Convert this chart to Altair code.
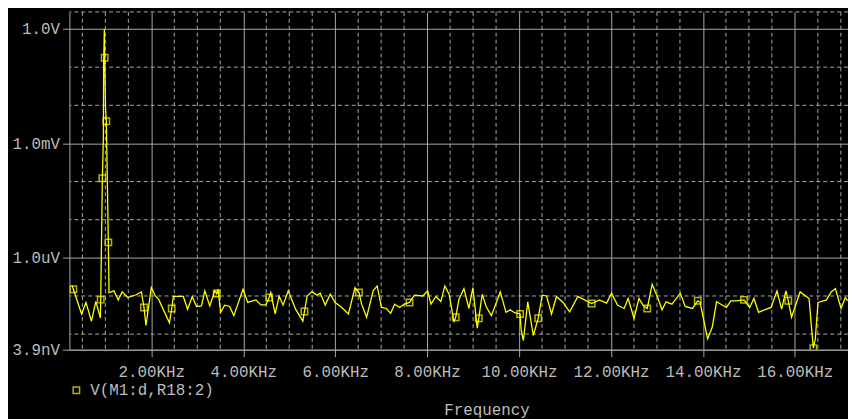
import altair as alt
import pandas as pd

# ---- data (frequency in Hz, magnitude in volts) ----
freq_hz = [276, 304, 483, 578, 698, 793, 892, 899, 935, 957, 962, 978, 985, 1004, 1021, 1065, 1080,
           1187, 1280, 1366, 1489, 1655, 1784, 1840, 1883, 2000, 2086, 2157, 2394, 2444, 2480, 2696,
           2789, 2890, 2983, 3090, 3164, 3271, 3379, 3422, 3450, 3508, 3595, 3702, 3795, 3995, 4097,
           4276, 4383, 4491, 4564, 4599, 4694, 4780, 4866, 4980, 5138, 5297, 5331, 5390, 5497, 5605,
           5676, 5784, 5892, 5999, 6144, 6288, 6431, 6517, 6575, 6683, 6827, 6913, 7006, 7114, 7206,
           7293, 7400, 7508, 7616, 7723, 7905, 8012, 8083, 8191, 8299, 8385, 8478, 8586, 8622, 8693,
           8801, 8909, 8995, 9090, 9124, 9198, 9284, 9398, 9592, 9715, 9807, 9915, 10023, 10045, 10094,
           10189, 10310, 10417, 10503, 10598, 10706, 10814, 10956, 11100, 11279, 11424, 11581, 11747,
           11904, 12012, 12141, 12286, 12372, 12501, 12609, 12695, 12788, 12895, 13003, 13111, 13197,
           13327, 13508, 13615, 13773, 13887, 13938, 14102, 14204, 14296, 14512, 14607, 14727, 14893,
           15016, 15109, 15210, 15339, 15482, 15611, 15712, 15805, 15857, 15928, 16115, 16309, 16365,
           16402, 16445, 16503, 16688, 16790, 16882, 17005, 17098, 17149]

volts = [190e-9, 150e-9, 33.7e-9, 67.5e-9, 21.8e-9, 72e-9, 26.5e-9, 80e-9, 122e-6, 1.4e-3, 0.118, 1.0,
         0.177, 8.0e-3, 3.8e-3, 2.54e-6, 123e-9,
         136e-9, 78e-9, 128e-9, 91e-9, 106e-9, 128e-9, 50e-9, 16.8e-9, 166e-9, 100e-9, 82.6e-9,
         19.7e-9, 47e-9, 97e-9, 97e-9, 45e-9, 97e-9, 53e-9, 55e-9, 136e-9, 55e-9, 136e-9, 116e-9,
         150e-9, 37.3e-9, 57.5e-9, 53e-9, 30.5e-9, 150e-9, 67.5e-9, 79e-9, 58.5e-9, 58.5e-9, 91e-9,
         123e-9, 33.7e-9, 100e-9, 57.5e-9, 136e-9, 45e-9, 21.8e-9, 39e-9, 100e-9, 130e-9, 105e-9,
         118e-9, 57.5e-9, 111e-9, 67.5e-9, 50e-9, 33.7e-9, 166e-9, 123e-9, 61e-9, 27.7e-9, 136e-9,
         183e-9, 50e-9, 47e-9, 35e-9, 61e-9, 50e-9, 61e-9, 67.5e-9, 105e-9, 100e-9, 136e-9, 61e-9,
         97e-9, 72e-9, 183e-9, 111e-9, 20.6e-9, 27.7e-9, 82.6e-9, 156e-9, 47e-9, 166e-9, 14.3e-9,
         26.1e-9, 111e-9, 53e-9, 30.5e-9, 128e-9, 37.3e-9, 43.2e-9, 35.8e-9, 33.7e-9, 13.1e-9, 6.8e-9,
         70.3e-9, 9.2e-9, 26.1e-9, 105e-9, 100e-9, 33.7e-9, 97e-9, 67.5e-9, 38.3e-9, 97e-9, 79e-9,
         63.6e-9, 79e-9, 64.8e-9, 118e-9, 57.5e-9, 47e-9, 86e-9, 26.1e-9, 86e-9, 57.5e-9, 47e-9,
         202e-9, 100e-9, 43.2e-9, 70.3e-9, 61e-9, 118e-9, 53e-9, 47e-9, 74.7e-9, 67.5e-9, 7.55e-9,
         15.3e-9, 70.3e-9, 50e-9, 74.7e-9, 74.7e-9, 79e-9, 50e-9, 86e-9, 37.3e-9, 43.2e-9, 50e-9,
         136e-9, 45e-9, 136e-9, 74.7e-9, 27.7e-9, 128e-9, 86e-9, 13.7e-9, 4.3e-9, 7.55e-9, 67.5e-9,
         79e-9, 128e-9, 156e-9, 47e-9, 91e-9, 74.7e-9]

marker_idx = [1, 7, 8, 12, 14, 15, 23, 29, 39, 50, 58, 69, 80, 90, 96, 104, 109, 118, 128, 137,
              145, 154, 159]

series_name = "V(M1:d,R18:2)"

x_major = [2000, 4000, 6000, 8000, 10000, 12000, 14000, 16000]
x_minor = [500, 1000, 1500, 2500, 3000, 3500, 4500, 5000, 5500, 6500, 7000, 7500, 8500, 9000,
           9500, 10500, 11000, 11500, 12500, 13000, 13500, 14500, 15000, 15500, 16500, 17000]
y_major = [3.9e-9, 1e-6, 1e-3, 1.0]
y_minor = [1e-8, 1e-7, 1e-5, 1e-4, 1e-2, 1e-1]

x_domain = [218, 17156]
y_domain = [3.9e-9, 2.81]

df = pd.DataFrame({"freq": freq_hz, "volt": volts})
mk = df.iloc[marker_idx].copy()
mk["series"] = series_name

GRID = "#a8a8a8"
TEXT = "#bcbcbc"
YEL = "#ffff00"
FONT = "Liberation Mono"

xs = alt.Scale(domain=x_domain, nice=False, zero=False)
ys = alt.Scale(type="log", domain=y_domain, nice=False)

x_axis = alt.Axis(
    values=x_major,
    labelExpr="format(datum.value/1000, '.2f') + 'KHz'",
    grid=True, gridColor=GRID, gridWidth=1,
    domainColor=GRID, domainWidth=1,
    tickColor=GRID, tickSize=7, tickWidth=1,
    labelColor=TEXT, labelFont=FONT, labelFontSize=16, labelPadding=7,
    labelFlush=False, labelOverlap=False,
    title="Frequency", titleColor=TEXT, titleFont=FONT, titleFontSize=16,
    titleFontWeight="normal", titleX=421, titleY=60, titleBaseline="middle",
)
y_axis = alt.Axis(
    values=y_major,
    labelExpr="datum.value >= 0.5 ? '1.0V' : (datum.value >= 5e-4 ? '1.0mV' : (datum.value >= 5e-7 ? '1.0uV' : '3.9nV'))",
    grid=True, gridColor=GRID, gridWidth=1,
    domainColor=GRID, domainWidth=1,
    tickColor=GRID, tickSize=7, tickWidth=1,
    labelColor=TEXT, labelFont=FONT, labelFontSize=16, labelPadding=3,
    labelOverlap=False, labelFlush=False,
    title=None,
)

vminor = alt.Chart(pd.DataFrame({"freq": x_minor})).mark_rule(
    color=GRID, strokeWidth=1, strokeDash=[4, 3]
).encode(x=alt.X("freq:Q", scale=xs, axis=x_axis))

hminor = alt.Chart(pd.DataFrame({"volt": y_minor})).mark_rule(
    color=GRID, strokeWidth=1, strokeDash=[4, 3]
).encode(y=alt.Y("volt:Q", scale=ys, axis=y_axis))

topborder = alt.Chart(pd.DataFrame({"volt": [y_domain[1]]})).mark_rule(
    color=GRID, strokeWidth=1, strokeDash=[4, 3]
).encode(y=alt.Y("volt:Q", scale=ys, axis=y_axis))

line = alt.Chart(df).mark_line(color=YEL, strokeWidth=1.3, clip=True).encode(
    x=alt.X("freq:Q", scale=xs, axis=x_axis),
    y=alt.Y("volt:Q", scale=ys, axis=y_axis),
    order="freq:Q",
)

points = alt.Chart(mk).mark_point(shape="square", filled=False, size=42, strokeWidth=1.5, clip=True).encode(
    x=alt.X("freq:Q", scale=xs, axis=x_axis),
    y=alt.Y("volt:Q", scale=ys, axis=y_axis),
    color=alt.Color(
        "series:N",
        scale=alt.Scale(range=[YEL]),
        legend=alt.Legend(
            orient="none", legendX=-1, legendY=374, title=None,
            symbolType="square", symbolSize=42, symbolStrokeWidth=1.5,
            labelFont=FONT, labelFontSize=16, labelColor=TEXT, labelOffset=6,
            padding=0,
        ),
    ),
)

chart = alt.layer(vminor, hminor, topborder, line, points).properties(
    width=786, height=341,
    padding={"left": 62, "top": 2, "right": 0, "bottom": 68},
    autosize=alt.AutoSizeParams(type="none"),
).configure(background="black").configure_view(stroke=None)

chart.save("out.html", embed_options={"renderer": "svg", "actions": False})
